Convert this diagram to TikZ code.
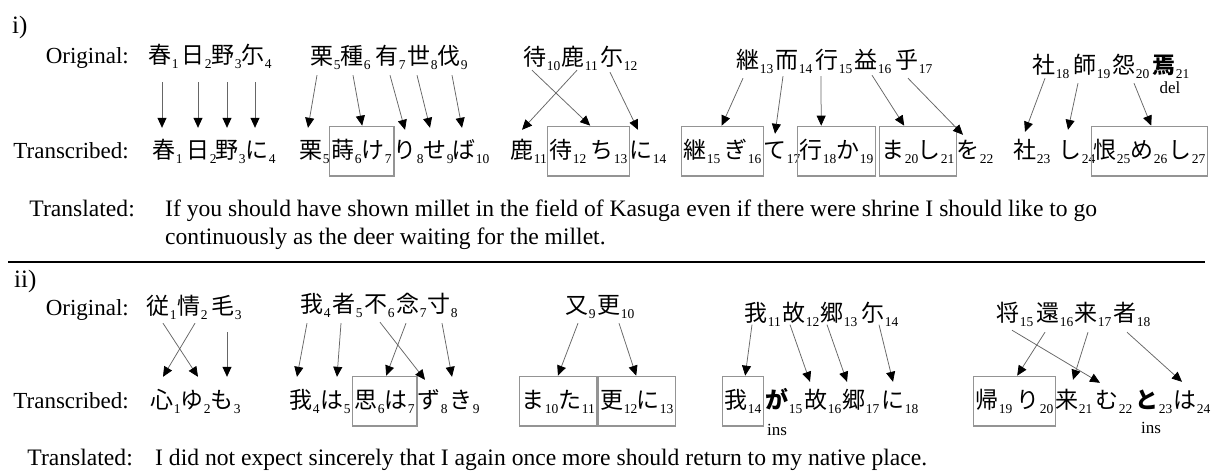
\documentclass[tikz,border=0pt]{standalone}
\usepackage{fontspec}
\setmainfont{Liberation Serif}
\newfontfamily\cjk{Noto Sans CJK JP}
\usetikzlibrary{arrows.meta,fit}
\tikzset{
 kj/.style={font=\cjk\fontsize{23}{23}\selectfont, inner sep=0pt, text height=20.24pt, text depth=2.76pt, anchor=center},
 kjb/.style={kj, font=\cjk\bfseries\fontsize{23}{23}\selectfont},
 sb/.style={font=\fontsize{13.5}{13.5}\selectfont, inner sep=0pt, anchor=base west},
 lbl/.style={font=\fontsize{23}{23}\selectfont, inner sep=0pt, anchor=base east},
 tlbl/.style={font=\fontsize{23.6}{23.6}\selectfont, inner sep=0pt, anchor=base east},
 txt/.style={font=\fontsize{23.6}{23.6}\selectfont, inner sep=0pt, anchor=base west},
 note/.style={font=\fontsize{17}{17}\selectfont, inner sep=0pt},
 bx/.style={draw=black!42, line width=1.3pt, inner xsep=2pt, inner ysep=12pt},
 arw/.style={draw=black!60, line width=0.75pt, -{Triangle[length=10pt,width=9pt,color=black,fill=black]}},
}
\newcommand\kkc[5]{\node[kj] (#1) at (#2,#3) {#4}; \node[sb] (#1s) at ([yshift=-5pt]#1.base east) {#5};}
\newcommand\kkb[5]{\node[kjb] (#1) at (#2,#3) {#4}; \node[sb] (#1s) at ([yshift=-5pt]#1.base east) {#5};}
\newcommand\arro[6]{\draw[arw] ([xshift=#2pt,yshift=#3pt]#1.south) -- ([xshift=#5pt,yshift=#6pt]#4.north);}
\begin{document}
\begin{tikzpicture}[x=1pt,y=-1pt]
\fill[white] (0,0) rectangle (1215,475);
\useasboundingbox (0,0) rectangle (1215,475);
% ---------- panel i ----------
\node[txt,font=\fontsize{25}{25}\selectfont] (pi) at (12,33.5) {i)};
\node[lbl] (oi) at (129,63) {Original:};
\node[lbl] (tri) at (129,158) {Transcribed:};
\kkc{ia1}{160}{55}{春}{1}
\kkc{ia2}{193}{55}{日}{2}
\kkc{ia3}{223}{55}{野}{3}
\kkc{ia4}{253}{55}{尓}{4}
\kkc{ia5}{322}{56}{栗}{5}
\kkc{ia6}{352}{56}{種}{6}
\kkc{ia7}{387}{56}{有}{7}
\kkc{ia8}{419}{56}{世}{8}
\kkc{ia9}{449}{56}{伐}{9}
\kkc{ia10}{535}{57}{待}{10}
\kkc{ia11}{573}{57}{鹿}{11}
\kkc{ia12}{612}{57}{尓}{12}
\kkc{ia13}{748}{60}{継}{13}
\kkc{ia14}{787}{60}{而}{14}
\kkc{ia15}{827}{60}{行}{15}
\kkc{ia16}{866}{60}{益}{16}
\kkc{ia17}{907}{60}{乎}{17}
\kkc{ia18}{1044}{65}{社}{18}
\kkc{ia19}{1085}{65}{師}{19}
\kkc{ia20}{1124}{65}{怨}{20}
\kkb{ia21}{1164}{65}{焉}{21}
\node[note] (del) at (1170,88) {del};
\kkc{ib1}{164}{150}{春}{1}
\kkc{ib2}{198}{150}{日}{2}
\kkc{ib3}{227}{150}{野}{3}
\kkc{ib4}{257}{150}{に}{4}
\kkc{ib5}{311}{150}{栗}{5}
\kkc{ib6}{343}{150}{蒔}{6}
\kkc{ib7}{373}{150}{け}{7}
\kkc{ib8}{405}{150}{り}{8}
\kkc{ib9}{435}{150}{せ}{9}
\kkc{ib10}{464}{150}{ば}{10}
\kkc{ib11}{522}{150}{鹿}{11}
\kkc{ib12}{561}{150}{待}{12}
\kkc{ib13}{602}{150}{ち}{13}
\kkc{ib14}{641}{150}{に}{14}
\kkc{ib15}{695}{150}{継}{15}
\kkc{ib16}{736}{150}{ぎ}{16}
\kkc{ib17}{775}{150}{て}{17}
\kkc{ib18}{811}{150}{行}{18}
\kkc{ib19}{848}{150}{か}{19}
\kkc{ib20}{893}{150}{ま}{20}
\kkc{ib21}{929}{150}{し}{21}
\kkc{ib22}{968}{150}{を}{22}
\kkc{ib23}{1025}{150}{社}{23}
\kkc{ib24}{1070}{150}{し}{24}
\kkc{ib25}{1105}{150}{恨}{25}
\kkc{ib26}{1142}{150}{め}{26}
\kkc{ib27}{1180}{150}{し}{27}
\node[bx, fit=(ib6)(ib7s)] (B1) {};
\node[bx, fit=(ib12)(ib13s)] (B2) {};
\node[bx, fit=(ib15)(ib16s)] (B3) {};
\node[bx, fit=(ib18)(ib19s)] (B4) {};
\node[bx, fit=(ib20)(ib21s)] (B5) {};
\node[bx, fit=(ib25)(ib27s)] (B6) {};
\arro{ia1}{2}{-15.5}{ib1}{-2}{10.5}
\arro{ia2}{5}{-15.5}{ib2}{0}{10.5}
\arro{ia3}{4}{-15.5}{ib3}{0}{10.5}
\arro{ia4}{2}{-15.5}{ib4}{-2}{10.5}
\arro{ia5}{-5}{-7.5}{ib5}{-3}{10.5}
\arro{ia6}{1}{-7.5}{B1}{0.6}{0}
\arro{ia7}{3}{-7.5}{ib8}{0}{8.5}
\arro{ia8}{-2}{-7.5}{ib9}{-5}{10.5}
\arro{ia9}{3}{-7.5}{ib10}{-2}{10.5}
\arro{ia10}{-3}{-1.5}{B2}{1.75}{0}
\arro{ia11}{4}{-1.5}{ib11}{0}{8.5}
\arro{ia12}{-2}{-3.5}{ib14}{-3}{8.5}
\arro{ia13}{-5}{-6.5}{B3}{-0.75}{0}
\arro{ia14}{-4}{-4.5}{ib17}{0}{4.5}
\arro{ia15}{-6}{-4.5}{B4}{-15.25}{0}
\arro{ia16}{6}{-3.5}{B5}{-13.75}{0}
\arro{ia17}{1}{-6.5}{ib22}{-5}{3.5}
\arro{ia18}{1}{-1.5}{ib23}{0}{6.5}
\arro{ia19}{-7}{-6.5}{ib24}{-2}{8.5}
\arro{ia20}{10}{-6.5}{B6}{1.75}{0}
\node[tlbl] (tli) at (135,216) {Translated:};
\node[txt] (tx1) at (165,216) {If you should have shown millet in the field of Kasuga even if there were shrine I should like to go};
\node[txt] (tx2) at (165,244) {continuously as the deer waiting for the millet.};
\draw[line width=1.3pt] (8,262) -- (1205,262);
% ---------- panel ii ----------
\node[txt,font=\fontsize{25}{25}\selectfont] (pii) at (14,287.5) {ii)};
\node[lbl] (oii) at (129,315) {Original:};
\node[lbl] (trii) at (129,408) {Transcribed:};
\kkc{iia1}{158}{306}{従}{1}
\kkc{iia2}{189}{306}{情}{2}
\kkc{iia3}{223}{306}{毛}{3}
\kkc{iia4}{312}{304}{我}{4}
\kkc{iia5}{344}{304}{者}{5}
\kkc{iia6}{376}{304}{不}{6}
\kkc{iia7}{408}{304}{念}{7}
\kkc{iia8}{439}{304}{寸}{8}
\kkc{iia9}{577}{305}{又}{9}
\kkc{iia10}{609}{305}{更}{10}
\kkc{iia11}{756}{313}{我}{11}
\kkc{iia12}{794}{313}{故}{12}
\kkc{iia13}{832}{313}{郷}{13}
\kkc{iia14}{873}{313}{尓}{14}
\kkc{iia15}{1008}{313}{将}{15}
\kkc{iia16}{1048}{313}{還}{16}
\kkc{iia17}{1086}{313}{来}{17}
\kkc{iia18}{1125}{313}{者}{18}
\kkc{iib1}{162}{400}{心}{1}
\kkc{iib2}{192}{400}{ゆ}{2}
\kkc{iib3}{222}{400}{も}{3}
\kkc{iib4}{301}{400}{我}{4}
\kkc{iib5}{332}{400}{は}{5}
\kkc{iib6}{366}{400}{思}{6}
\kkc{iib7}{396}{400}{は}{7}
\kkc{iib8}{429}{400}{ず}{8}
\kkc{iib9}{461}{400}{き}{9}
\kkc{iib10}{533}{400}{ま}{10}
\kkc{iib11}{570}{400}{た}{11}
\kkc{iib12}{612}{400}{更}{12}
\kkc{iib13}{648}{400}{に}{13}
\kkc{iib14}{736}{400}{我}{14}
\kkb{iib15}{777}{400}{が}{15}
\kkc{iib16}{816}{400}{故}{16}
\kkc{iib17}{854}{400}{郷}{17}
\kkc{iib18}{893}{400}{に}{18}
\kkc{iib19}{987}{400}{帰}{19}
\kkc{iib20}{1028}{400}{り}{20}
\kkc{iib21}{1067}{400}{来}{21}
\kkc{iib22}{1107}{400}{む}{22}
\kkb{iib23}{1147}{400}{と}{23}
\kkc{iib24}{1185}{400}{は}{24}
\node[note] (ins1) at (777,430) {ins};
\node[note] (ins2) at (1151,428) {ins};
\node[bx, fit=(iib6)(iib7s)] (B7) {};
\node[bx, fit=(iib10)(iib11s)] (B8) {};
\node[bx, fit=(iib12)(iib13s)] (B9) {};
\node[bx, fit=(iib14)(iib14s)] (B10) {};
\node[bx, fit=(iib19)(iib20s)] (B11) {};
\arro{iia1}{5}{-5.5}{iib2}{6}{11.5}
\arro{iia2}{6}{-5.5}{iib1}{1}{11.5}
\arro{iia3}{4}{-14.5}{iib3}{5}{11.5}
\arro{iia4}{-5}{-7.5}{iib4}{-4}{11.5}
\arro{iia5}{-3}{-7.5}{iib5}{5}{11.5}
\arro{iia6}{4}{-6.5}{iib8}{-4}{8.5}
\arro{iia7}{-2}{-7.5}{B7}{1.6}{0}
\arro{iia8}{3}{-7.5}{iib9}{-9}{11.5}
\arro{iia9}{1}{-6.5}{B8}{-0.25}{0}
\arro{iia10}{10}{-6.5}{B9}{-0.75}{0}
\arro{iia11}{-4}{0}{B10}{2.25}{0}
\arro{iia12}{-4}{0}{iib16}{-6}{6.5}
\arro{iia13}{-5}{0}{iib17}{-7}{6.5}
\arro{iia14}{6}{0}{iib18}{0}{6.5}
\arro{iia15}{4}{-5.5}{iib22}{-7}{5.5}
\arro{iia16}{-3}{-7.5}{B11}{2.75}{0}
\arro{iia17}{2}{-7.5}{iib21}{6}{8.5}
\arro{iia18}{2}{-7.5}{iib24}{-3}{6.5}
\node[tlbl] (tlii) at (133,465) {Translated:};
\node[txt] (tx3) at (155,465) {I did not expect sincerely that I again once more should return to my native place.};
\end{tikzpicture}
\end{document}
